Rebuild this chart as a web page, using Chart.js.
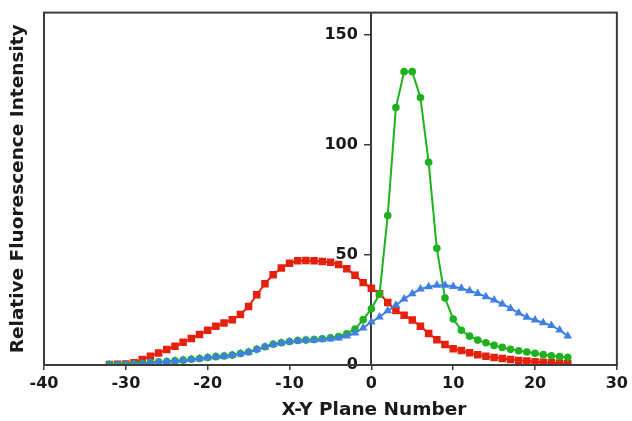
<!DOCTYPE html>
<html>
<head>
<meta charset="utf-8">
<script src="https://cdn.jsdelivr.net/npm/chart.js@4.4.1/dist/chart.umd.min.js"></script>
<style>
  html, body { margin: 0; padding: 0; background: #fff; }
  #wrap { width: 632px; height: 421px; position: relative; }
</style>
</head>
<body>
<div id="wrap"><canvas id="chart"></canvas></div>
<script>
  // X-Y plane numbers shared by all three series
  const planes = [-32, -31, -30, -29, -28, -27, -26, -25, -24, -23, -22, -21, -20, -19, -18, -17,
    -16, -15, -14, -13, -12, -11, -10, -9, -8, -7, -6, -5, -4, -3, -2, -1, 0, 1, 2, 3, 4, 5, 6, 7,
    8, 9, 10, 11, 12, 13, 14, 15, 16, 17, 18, 19, 20, 21, 22, 23, 24];

  const redValues = [0.2, 0.3, 0.5, 1.0, 2.5, 4.0, 5.5, 7.0, 8.5, 10.3, 12.0, 13.8, 15.8, 17.6, 19.1, 20.6,
    22.9, 26.6, 31.9, 36.9, 41.0, 44.0, 46.2, 47.3, 47.4, 47.3, 47.0, 46.7, 45.6, 43.7, 40.8, 37.4, 34.8,
    32.4, 28.4, 24.8, 22.6, 20.4, 17.6, 14.3, 11.5, 9.3, 7.4, 6.6, 5.6, 4.7, 4.0, 3.4, 2.9, 2.5, 2.1, 1.8,
    1.5, 1.2, 1.0, 0.8, 0.6];

  const greenValues = [0.2, 0.2, 0.3, 0.4, 0.7, 1.1, 1.4, 1.6, 1.9, 2.2, 2.6, 2.9, 3.4, 3.8, 4.1, 4.5,
    5.2, 5.9, 7.1, 8.3, 9.4, 10.1, 10.7, 11.1, 11.3, 11.6, 11.9, 12.3, 12.9, 14.2, 16.3, 20.6, 25.5,
    32.2, 67.9, 116.9, 133.2, 133.2, 121.4, 92.0, 53.0, 30.4, 20.9, 15.8, 13.1, 11.3, 10.1, 8.9, 8.0,
    7.1, 6.5, 5.9, 5.3, 4.7, 4.2, 3.8, 3.5];

  const blueValues = [0.1, 0.1, 0.2, 0.3, 0.6, 1.0, 1.3, 1.5, 1.8, 2.1, 2.5, 2.8, 3.3, 3.7, 4.0, 4.4,
    5.1, 5.8, 7.0, 8.2, 9.3, 10.0, 10.6, 11.0, 11.2, 11.4, 11.6, 11.9, 12.3, 13.2, 14.5, 16.8, 19.5,
    21.8, 24.6, 27.1, 30.0, 32.4, 34.5, 35.5, 36.2, 36.2, 35.6, 34.8, 33.7, 32.5, 31.0, 29.5, 27.7,
    25.7, 23.6, 21.7, 20.4, 19.2, 17.9, 15.9, 13.2];

  const xTicks = [-40, -30, -20, -10, 0, 10, 20, 30];
  const yTicks = [0, 50, 100, 150];

  const X_TITLE = 'X-Y Plane Number';
  const Y_TITLE = 'Relative Fluorescence Intensity';

  const AXIS_COLOR = '#3c3c3c';
  const TEXT_COLOR = '#1a1a1a';
  const FONT = 'DejaVu Sans';

  const toPoints = vals => planes.map((p, i) => ({ x: p, y: vals[i] }));

  // frame round the plot area plus the x title, which sits off-centre in the original
  const framePlugin = {
    id: 'frame',
    afterDraw(chart) {
      const { ctx, chartArea: a } = chart;
      ctx.save();
      ctx.strokeStyle = AXIS_COLOR;
      ctx.lineWidth = 2;
      ctx.strokeRect(a.left, a.top, a.right - a.left, a.bottom - a.top);
      ctx.fillStyle = TEXT_COLOR;
      ctx.font = `bold 18.5px "${FONT}"`;
      ctx.textAlign = 'center';
      ctx.textBaseline = 'middle';
      ctx.fillText(X_TITLE, a.left + (a.right - a.left) * 0.576, 410);
      ctx.restore();
    }
  };

  const ctx = document.getElementById('chart').getContext('2d');
  new Chart(ctx, {
    type: 'line',
    data: {
      datasets: [
        {
          label: 'blue',
          data: toPoints(blueValues),
          borderColor: '#3f7fe6',
          backgroundColor: '#3f7fe6',
          borderWidth: 2,
          pointStyle: 'triangle',
          pointRadius: 5,
          pointBorderWidth: 0,
          tension: 0
        },
        {
          label: 'green',
          data: toPoints(greenValues),
          borderColor: '#1fb21f',
          backgroundColor: '#1fb21f',
          borderWidth: 2,
          pointStyle: 'circle',
          pointRadius: 3.8,
          pointBorderWidth: 0,
          tension: 0
        },
        {
          label: 'red',
          data: toPoints(redValues),
          borderColor: '#e5200c',
          backgroundColor: '#e5200c',
          borderWidth: 2,
          pointStyle: 'rect',
          pointRadius: 5.3,
          pointBorderWidth: 0,
          tension: 0
        }
      ]
    },
    options: {
      responsive: true,
      maintainAspectRatio: false,
      animation: false,
      layout: { padding: { top: 8, right: 14, left: 0, bottom: 0 } },
      plugins: {
        legend: { display: false },
        tooltip: { enabled: false }
      },
      scales: {
        x: {
          type: 'linear',
          position: 'bottom',
          min: xTicks[0],
          max: xTicks[xTicks.length - 1],
          afterBuildTicks: s => { s.ticks = xTicks.map(v => ({ value: v })); },
          afterFit: s => { s.height = 56; },
          ticks: {
            color: TEXT_COLOR,
            font: { family: FONT, size: 16, weight: 'bold' },
            padding: 4,
            maxRotation: 0
          },
          grid: { drawOnChartArea: false, drawTicks: true, tickLength: 5, color: AXIS_COLOR, lineWidth: 1.5 },
          border: { color: AXIS_COLOR, width: 2 }
        },
        y: {
          type: 'linear',
          position: { x: 0 },
          min: 0,
          max: 160,
          afterBuildTicks: s => { s.ticks = yTicks.map(v => ({ value: v })); },
          ticks: {
            color: TEXT_COLOR,
            font: { family: FONT, size: 16, weight: 'bold' },
            // labels sit right against a centred axis, so pad them with spaces
            callback: v => v + '\u2002 '
          },
          grid: { drawOnChartArea: false, drawTicks: true, tickLength: 6, color: AXIS_COLOR, lineWidth: 1.5 },
          border: { color: AXIS_COLOR, width: 2 }
        },
        yTitle: {
          type: 'linear',
          position: 'left',
          min: 0,
          max: 160,
          afterFit: s => { s.width = 44; },
          ticks: { display: false },
          grid: { display: false },
          border: { display: false },
          title: {
            display: true,
            text: Y_TITLE,
            color: TEXT_COLOR,
            font: { family: FONT, size: 18.5, weight: 'bold' },
            padding: { top: 7, bottom: 0 }
          }
        }
      }
    },
    plugins: [framePlugin]
  });
</script>
</body>
</html>
